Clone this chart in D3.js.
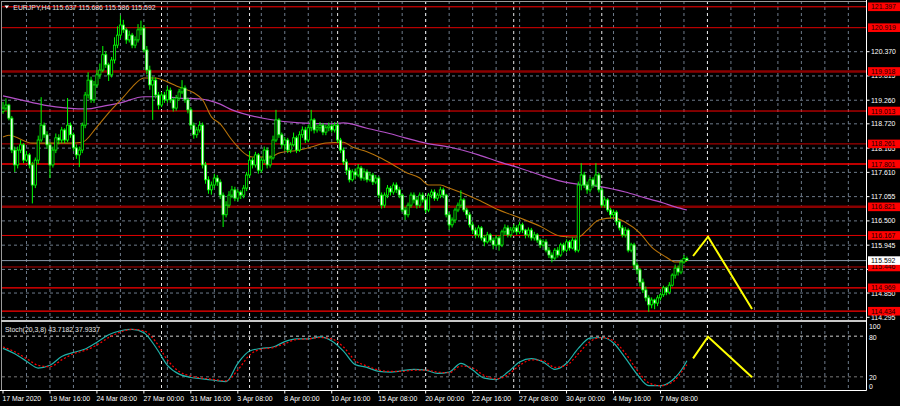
<!DOCTYPE html>
<html><head><meta charset="utf-8">
<script src="https://cdn.jsdelivr.net/npm/d3@7/dist/d3.min.js"></script>
<style>
body{margin:0;background:#000;}
svg{display:block;}
text{font-family:"Liberation Sans",Arial,sans-serif;}
</style>
</head><body>
<svg id="c" width="900" height="406"></svg>
<script>
// ---------------- DATA ----------------
const symbol = "EURJPY,H4";
const lastBar = [115.637, 115.686, 115.586, 115.592];
const stochTitle = "Stoch(20,3,8) 43.7182 37.9337";

const open = [
119.00,119.08,119.15,118.85,118.12,117.78,118.12,118.24,117.89,118.01,
117.78,117.32,117.89,118.35,118.69,118.47,118.24,117.78,118.12,118.40,
118.35,118.58,118.35,118.69,118.47,118.17,118.01,118.12,118.69,119.38,
119.72,119.27,119.61,119.84,119.95,120.30,120.07,119.84,120.18,120.52,
120.75,120.98,120.87,120.64,120.75,120.52,120.64,120.87,120.91,120.41,
119.95,119.61,119.72,119.38,119.15,119.38,119.27,119.49,119.27,119.08,
119.31,119.45,119.54,119.27,119.04,118.69,118.47,118.58,118.69,117.78,
117.44,117.21,117.32,117.48,117.39,117.09,116.64,116.86,117.09,117.21,
117.02,117.16,117.09,117.25,117.55,117.89,117.78,118.01,117.66,117.89,
118.12,117.78,117.94,118.35,118.81,118.47,118.24,118.35,118.12,118.24,
118.40,118.12,118.47,118.58,118.35,118.63,118.81,118.58,118.63,118.69,
118.53,118.63,118.67,118.58,118.69,118.35,118.12,117.85,117.66,117.44,
117.62,117.55,117.71,117.48,117.62,117.44,117.55,117.39,117.48,117.09,
116.86,117.09,117.25,117.16,117.32,117.21,117.09,116.75,116.64,116.86,
117.09,116.98,116.86,117.09,116.98,116.75,117.09,117.16,117.02,117.09,
117.21,117.09,116.64,116.41,116.52,116.75,116.86,116.98,116.75,116.64,
116.41,116.29,116.18,116.34,116.11,116.02,116.18,116.06,115.95,116.11,
115.95,116.25,116.34,116.18,116.29,116.34,116.25,116.41,116.29,116.18,
116.29,116.11,116.18,116.06,115.95,116.02,115.83,115.72,115.65,115.83,
115.72,115.95,115.83,116.02,115.88,116.06,115.83,117.32,117.55,117.32,
117.21,117.44,117.32,117.55,117.21,116.86,116.98,116.75,116.64,116.70,
116.48,116.34,116.18,116.29,115.83,115.95,115.49,115.38,115.10,114.92,
114.74,114.58,114.69,114.62,114.74,114.81,114.97,114.87,115.03,115.26,
115.42,115.33,115.56,115.637];
const high = [
119.22,119.30,119.18,118.90,118.20,118.20,118.35,118.28,118.10,118.05,
117.85,117.95,118.45,119.33,118.75,118.55,118.30,118.20,118.50,118.48,
118.65,118.62,119.31,118.75,118.52,118.25,118.20,118.75,119.45,119.90,
119.80,119.70,119.95,120.10,120.50,120.38,120.12,120.25,120.70,120.95,
121.20,121.10,120.92,120.85,120.80,120.72,121.00,121.08,120.98,120.50,
120.05,119.80,119.78,119.45,119.45,119.45,119.58,119.55,119.32,119.38,
119.52,119.72,119.60,119.32,119.10,118.75,118.65,118.78,118.75,117.85,
117.52,117.40,117.58,117.55,117.45,117.15,116.95,117.18,117.30,117.28,
117.22,117.20,117.32,117.62,118.10,117.95,118.08,118.05,117.95,118.20,
118.18,118.00,118.45,119.04,118.85,118.52,118.42,118.40,118.30,118.52,
118.45,118.55,118.66,118.65,118.70,119.04,118.85,118.70,118.76,118.74,
118.70,118.75,118.72,118.76,118.75,118.40,118.18,117.92,117.72,117.68,
117.70,117.80,117.76,117.70,117.68,117.62,117.60,117.55,117.52,117.15,
117.15,117.32,117.30,117.38,117.38,117.28,117.12,116.82,116.92,117.15,
117.15,117.05,117.15,117.15,117.04,117.14,117.22,117.22,117.14,117.28,
117.26,117.12,116.70,116.58,116.80,116.92,117.20,117.02,116.80,116.70,
116.48,116.35,116.40,116.38,116.18,116.25,116.22,116.12,116.18,116.16,
116.30,116.42,116.40,116.36,116.42,116.40,116.48,116.46,116.32,116.35,
116.34,116.25,116.22,116.10,116.08,116.08,115.90,115.78,115.88,115.90,
116.00,116.00,116.08,116.06,116.12,116.10,117.40,117.82,117.62,117.40,
117.50,117.50,117.82,117.60,117.25,117.05,117.02,116.80,116.76,116.74,
116.52,116.40,116.36,116.33,116.00,116.00,115.55,115.42,115.18,115.00,
114.80,114.75,114.72,114.80,114.86,115.02,115.00,115.10,115.30,115.50,
115.48,115.62,115.72,115.686];
const low = [
118.95,119.02,118.80,118.05,117.62,117.70,118.05,117.82,117.85,117.70,
116.90,117.25,117.80,118.30,118.40,118.15,117.48,117.72,118.05,118.25,
118.28,118.28,118.30,118.40,118.10,117.92,117.73,118.05,118.62,119.30,
119.20,119.20,119.55,119.75,119.90,120.00,119.70,119.78,120.10,120.45,
120.68,120.80,120.55,120.58,120.45,120.45,120.58,120.75,120.35,119.85,
119.50,118.81,119.30,119.05,119.10,119.20,119.20,119.20,119.00,119.02,
119.25,119.40,119.20,118.96,118.60,118.38,118.40,118.52,117.70,117.35,
117.12,117.10,117.25,117.30,117.00,116.36,116.58,116.80,117.02,116.95,
116.95,117.00,117.02,117.18,117.48,117.70,117.72,117.58,117.60,117.82,
117.70,117.72,117.90,118.30,118.40,118.15,118.10,118.05,118.05,118.20,
118.05,118.08,118.40,118.28,118.30,118.55,118.50,118.52,118.55,118.46,
118.46,118.55,118.52,118.52,118.28,118.05,117.78,117.55,117.38,117.40,
117.45,117.50,117.42,117.42,117.38,117.40,117.32,117.34,117.02,116.78,
116.80,117.02,117.08,117.10,117.14,117.02,116.70,116.52,116.58,116.80,
116.90,116.78,116.80,116.92,116.68,116.70,117.02,116.96,116.96,117.02,
117.02,116.58,116.30,116.35,116.45,116.70,116.80,116.70,116.55,116.35,
116.20,116.10,116.12,116.05,115.92,115.98,116.00,115.85,115.90,115.82,
115.90,116.18,116.12,116.12,116.22,116.18,116.20,116.22,116.10,116.12,
116.05,116.05,116.00,115.88,115.90,115.78,115.65,115.55,115.60,115.66,
115.68,115.78,115.78,115.82,115.85,115.78,115.78,117.20,117.25,117.12,
117.15,117.25,117.28,117.15,116.80,116.80,116.70,116.56,116.58,116.40,
116.28,116.12,116.12,115.78,115.78,115.40,115.28,115.00,114.85,114.66,
114.42,114.50,114.48,114.55,114.68,114.76,114.80,114.82,115.00,115.18,
115.25,115.28,115.52,115.586];
const close = [
119.08,119.15,118.85,118.12,117.78,118.12,118.24,117.89,118.01,117.78,
117.32,117.89,118.35,118.69,118.47,118.24,117.78,118.12,118.40,118.35,
118.58,118.35,118.69,118.47,118.17,118.01,118.12,118.69,119.38,119.72,
119.27,119.61,119.84,119.95,120.30,120.07,119.84,120.18,120.52,120.75,
120.98,120.87,120.64,120.75,120.52,120.64,120.87,120.91,120.41,119.95,
119.61,119.72,119.38,119.15,119.38,119.27,119.49,119.27,119.08,119.31,
119.45,119.54,119.27,119.04,118.69,118.47,118.58,118.69,117.78,117.44,
117.21,117.32,117.48,117.39,117.09,116.64,116.86,117.09,117.21,117.02,
117.16,117.09,117.25,117.55,117.89,117.78,118.01,117.66,117.89,118.12,
117.78,117.94,118.35,118.81,118.47,118.24,118.35,118.12,118.24,118.40,
118.12,118.47,118.58,118.35,118.63,118.81,118.58,118.63,118.69,118.53,
118.63,118.67,118.58,118.69,118.35,118.12,117.85,117.66,117.44,117.62,
117.55,117.71,117.48,117.62,117.44,117.55,117.39,117.48,117.09,116.86,
117.09,117.25,117.16,117.32,117.21,117.09,116.75,116.64,116.86,117.09,
116.98,116.86,117.09,116.98,116.75,117.09,117.16,117.02,117.09,117.21,
117.09,116.64,116.41,116.52,116.75,116.86,116.98,116.75,116.64,116.41,
116.29,116.18,116.34,116.11,116.02,116.18,116.06,115.95,116.11,115.95,
116.25,116.34,116.18,116.29,116.34,116.25,116.41,116.29,116.18,116.29,
116.11,116.18,116.06,115.95,116.02,115.83,115.72,115.65,115.83,115.72,
115.95,115.83,116.02,115.88,116.06,115.83,117.32,117.55,117.32,117.21,
117.44,117.32,117.55,117.21,116.86,116.98,116.75,116.64,116.70,116.48,
116.34,116.18,116.29,115.83,115.95,115.49,115.38,115.10,114.92,114.74,
114.58,114.69,114.62,114.74,114.81,114.97,114.87,115.03,115.26,115.42,
115.33,115.56,115.64,115.592];

// moving averages (bar index, value)
const fastIdx = [0,2,10,17,22,27,32,36,41,44,48,52,56,60,65,68,71,74,78,83,85,91,94,101,105,110,116,119,124,128,133,137,142,145,149,152,162,169,176,183,190,196,199,203,208,212,217,221,226,229,233];
const fastVal = [118.42,118.46,118.28,118.28,118.28,118.30,118.65,118.97,119.33,119.56,119.77,119.77,119.68,119.56,119.43,119.27,118.88,118.72,118.35,118.01,117.96,117.96,118.05,118.12,118.19,118.28,118.30,118.19,118.08,117.96,117.78,117.62,117.48,117.32,117.32,117.25,116.98,116.75,116.57,116.38,116.15,116.13,116.29,116.52,116.57,116.47,116.22,115.90,115.67,115.56,115.58];
const slowIdx = [0,6,14,22,29,33,40,48,53,60,67,74,78,90,101,112,116,124,131,137,144,152,162,169,176,183,190,196,204,212,219,225,229,233];
const slowVal = [119.36,119.27,119.15,119.08,119.06,119.11,119.20,119.34,119.34,119.31,119.29,119.17,119.04,118.83,118.74,118.72,118.74,118.62,118.51,118.40,118.28,118.19,118.01,117.85,117.71,117.55,117.41,117.34,117.28,117.16,117.02,116.91,116.82,116.75];

// stochastic (bar index, main, signal)
const stochIdx = [0,4,8,12,16,20,24,28,32,36,40,44,48,52,56,60,64,68,72,76,80,84,88,92,96,100,104,108,112,116,120,124,128,132,136,140,144,148,152,156,160,164,168,172,176,180,184,188,192,196,200,204,208,212,216,220,224,228,232,233];
const stochMain = [62,54,43,33,37,50,56,61,71,82,88,90,85,64,37,24,19,17,15,13,40,58,62,64,72,76,76,79,73,58,38,34,28,27,29,31,30,25,27,40,30,18,16,27,42,47,42,31,40,62,77,78,70,48,24,7,7,15,36,43.7182];
const stochSignal = [64,57,47,37,35,45,54,59,67,78,86,90,88,72,45,28,21,18,16,14,30,52,61,63,69,75,76,78,76,64,44,36,30,28,28,30,30,27,26,36,33,22,17,23,37,45,44,34,37,54,72,78,73,55,30,11,7,12,32,37.9337];

// horizontal levels
const levelPrices = [121.397,120.919,119.918,119.013,118.261,117.801,116.821,116.167,115.446,114.969,114.434];
const levelColors = ["#ff0000","#e00000","#8b0000","#ff0000","#c80000","#ff0000","#8b0000","#e00000","#b40000","#ff0000","#ff0000"];
const levelWidths = [1,1,2.5,1,1,1.3,2.5,1,1,1.3,1.3];

const priceTicks = [120.370,119.815,119.260,118.720,118.165,117.610,117.055,116.500,115.945,115.390,114.850,114.295];
// tick labels that are fully covered by a level label in the reference are not printed
const hiddenTickLabels = [115.390];
const stochTicks = [100,80,20,0];
const timeIdx = [0,16,32,48,64,80,96,112,128,144,160,176,192,208,224];
const timeLabels = ["17 Mar 2020","19 Mar 16:00","24 Mar 08:00","27 Mar 00:00","31 Mar 16:00","3 Apr 08:00","8 Apr 00:00","10 Apr 16:00","15 Apr 08:00","20 Apr 00:00","22 Apr 16:00","27 Apr 08:00","30 Apr 00:00","4 May 16:00","7 May 08:00"];
const weekSepIdx = [54,84,114,144,174,204,240];

// projection zigzags
const zigIdx = [235.1,240.2,255.2];
const zigPrice = [115.697,116.139,114.485];
const zigStoch = [47.3,79.2,19.3];

// ---------------- DRAW ----------------
const svg = d3.select("#c");
const W = 900, H = 406;
const plotR = 866.5, mainBot = 320, stTop = 322, stBot = 390.5;

const x = d3.scaleLinear().domain([0,233]).range([3,686.9]);
const y = d3.scaleLinear().domain([114.295,120.370]).range([317.3,51.7]);
const ys = d3.scaleLinear().domain([0,100]).range([390.4,322.6]);

svg.append("rect").attr("width",W).attr("height",H).attr("fill","#000");

const defs = svg.append("defs");
defs.append("clipPath").attr("id","cm").append("rect").attr("x",2).attr("y",0).attr("width",plotR-2).attr("height",mainBot);
defs.append("clipPath").attr("id","cs").append("rect").attr("x",2).attr("y",stTop).attr("width",plotR-2).attr("height",stBot-stTop);

const gridColor = "#6e7b8b";
const vIdx = d3.range(8, 300, 8);
svg.append("g").selectAll("line").data(vIdx).join("line")
  .attr("x1",d=>x(d)).attr("x2",d=>x(d)).attr("y1",1).attr("y2",stBot)
  .attr("stroke",gridColor).attr("stroke-width",1).attr("stroke-dasharray","3,3")
  .attr("display",d=>x(d)<plotR-1?null:"none");
svg.append("g").selectAll("line").data(weekSepIdx).join("line")
  .attr("x1",d=>x(d)).attr("x2",d=>x(d)).attr("y1",1).attr("y2",stBot)
  .attr("stroke","#e8e8e8").attr("stroke-width",1).attr("stroke-dasharray","3,3");
svg.append("g").selectAll("line").data(priceTicks).join("line")
  .attr("x1",2).attr("x2",plotR).attr("y1",d=>y(d)).attr("y2",d=>y(d))
  .attr("stroke",gridColor).attr("stroke-width",1).attr("stroke-dasharray","3,3");
svg.append("line").attr("x1",2).attr("x2",plotR).attr("y1",ys(80)).attr("y2",ys(80))
  .attr("stroke","#d0d0d0").attr("stroke-dasharray","3,3");
svg.append("line").attr("x1",2).attr("x2",plotR).attr("y1",ys(20)).attr("y2",ys(20))
  .attr("stroke","#7a7a7a").attr("stroke-dasharray","3,3");

const gm = svg.append("g").attr("clip-path","url(#cm)");
gm.selectAll("line.lvl").data(levelPrices).join("line").attr("class","lvl")
  .attr("x1",2).attr("x2",plotR).attr("y1",d=>y(d)).attr("y2",d=>y(d))
  .attr("stroke",(d,i)=>levelColors[i]).attr("stroke-width",(d,i)=>levelWidths[i]);
gm.append("line").attr("x1",2).attr("x2",plotR).attr("y1",y(lastBar[3])).attr("y2",y(lastBar[3]))
  .attr("stroke","#8d9aab").attr("stroke-width",1);

const fastPts = fastIdx.map((d,i)=>[d,fastVal[i]]);
const slowPts = slowIdx.map((d,i)=>[d,slowVal[i]]);
const lineP = d3.line().x(d=>x(d[0])).y(d=>y(d[1])).curve(d3.curveMonotoneX);
gm.append("path").attr("d",lineP(slowPts)).attr("fill","none").attr("stroke","#b450c8").attr("stroke-width",1.2);
gm.append("path").attr("d",lineP(fastPts)).attr("fill","none").attr("stroke","#b8730a").attr("stroke-width",1.1);

const bars = close.map((c,i)=>({i,o:open[i],h:high[i],l:low[i],c}));
const cg = gm.append("g");
cg.selectAll("line").data(bars).join("line")
  .attr("x1",d=>x(d.i)).attr("x2",d=>x(d.i)).attr("y1",d=>y(d.h)).attr("y2",d=>y(d.l))
  .attr("stroke","#00ff00").attr("stroke-width",1);
cg.selectAll("rect").data(bars).join("rect")
  .attr("x",d=>x(d.i)-1.1).attr("width",2.2)
  .attr("y",d=>y(Math.max(d.o,d.c)))
  .attr("height",d=>Math.max(0.8,Math.abs(y(d.o)-y(d.c))))
  .attr("fill",d=>d.c>=d.o?"#000":"#ffffff")
  .attr("stroke","#00ff00").attr("stroke-width",0.8);

const zl = d3.line().x(d=>x(d[0])).y(d=>y(d[1]));
gm.append("path").attr("d",zl(zigIdx.map((d,i)=>[d,zigPrice[i]]))).attr("fill","none")
  .attr("stroke","#ffff00").attr("stroke-width",2);

const gs = svg.append("g").attr("clip-path","url(#cs)");
const ls = d3.line().x(d=>x(d[0])).y(d=>ys(d[1])).curve(d3.curveMonotoneX);
gs.append("path").attr("d",ls(stochIdx.map((d,i)=>[d,stochMain[i]]))).attr("fill","none")
  .attr("stroke","#20b2aa").attr("stroke-width",1.2);
gs.append("path").attr("d",ls(stochIdx.map((d,i)=>[d,stochSignal[i]]))).attr("fill","none")
  .attr("stroke","#ff0000").attr("stroke-width",1.2).attr("stroke-dasharray","2,2");
const zs = d3.line().x(d=>x(d[0])).y(d=>ys(d[1]));
gs.append("path").attr("d",zs(zigIdx.map((d,i)=>[d,zigStoch[i]]))).attr("fill","none")
  .attr("stroke","#ffff00").attr("stroke-width",2);

svg.append("line").attr("x1",1.5).attr("x2",1.5).attr("y1",1).attr("y2",stBot).attr("stroke","#9a9a9a");
svg.append("line").attr("x1",1).attr("x2",plotR).attr("y1",1.5).attr("y2",1.5).attr("stroke","#9a9a9a");
svg.append("rect").attr("x",1).attr("y",mainBot).attr("width",plotR-1).attr("height",2).attr("fill","#c8c8c8");
svg.append("line").attr("x1",0).attr("x2",plotR).attr("y1",stBot).attr("y2",stBot).attr("stroke","#ffffff");
svg.append("line").attr("x1",plotR).attr("x2",plotR).attr("y1",0).attr("y2",stBot).attr("stroke","#ffffff");

const fs = 6.9;
svg.append("g").selectAll("text").data(priceTicks.filter(d=>!hiddenTickLabels.includes(d))).join("text")
  .attr("x",871).attr("y",d=>y(d)+2.5).attr("fill","#ffffff").attr("font-size",fs)
  .text(d=>d.toFixed(3));
svg.append("g").selectAll("line").data(priceTicks).join("line")
  .attr("x1",plotR).attr("x2",plotR+3).attr("y1",d=>y(d)).attr("y2",d=>y(d)).attr("stroke","#fff");
const lg = svg.append("g");
levelPrices.forEach(p=>{
  lg.append("rect").attr("x",868).attr("y",y(p)-4.3).attr("width",32).attr("height",8.6).attr("fill","#ff0000");
  lg.append("text").attr("x",871).attr("y",y(p)+2.5).attr("fill","#200000").attr("font-size",fs).text(p.toFixed(3));
});
lg.append("rect").attr("x",868).attr("y",y(lastBar[3])-4.3).attr("width",32).attr("height",8.6).attr("fill","#ffffff");
lg.append("text").attr("x",871).attr("y",y(lastBar[3])+2.5).attr("fill","#000").attr("font-size",fs).text(lastBar[3].toFixed(3));

svg.append("g").selectAll("text").data(stochTicks).join("text")
  .attr("x",869).attr("y",(d,i)=>[329,339.5,379.5,388.5][i]).attr("fill","#ffffff").attr("font-size",fs)
  .text(d=>d);

svg.append("g").selectAll("line").data(timeIdx).join("line")
  .attr("x1",d=>x(d)).attr("x2",d=>x(d)).attr("y1",stBot).attr("y2",stBot+3).attr("stroke","#fff");
svg.append("g").selectAll("text").data(timeIdx).join("text")
  .attr("x",d=>x(d)-0.5).attr("y",400.5).attr("fill","#ffffff").attr("font-size",fs)
  .text((d,i)=>timeLabels[i]);

svg.append("path").attr("d","M4.5,5.5 L9,5.5 L6.75,8.5 Z").attr("fill","#ffffff");
svg.append("text").attr("x",13.3).attr("y",9.8).attr("fill","#e8e8e8").attr("font-size",fs)
  .text(symbol+" "+lastBar.map(v=>v.toFixed(3)).join(" "));
svg.append("text").attr("x",5).attr("y",331.5).attr("fill","#e8e8e8").attr("font-size",fs)
  .text(stochTitle);
</script>
</body></html>
